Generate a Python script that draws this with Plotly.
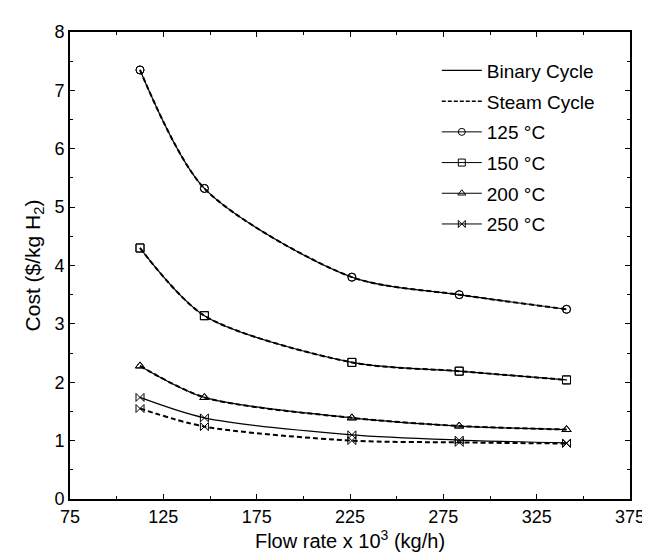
import plotly.graph_objects as go

# flow rate x 10^3 (kg/h)
flow = [112.5, 147, 226, 283.5, 341]

temps = ["125 °C", "150 °C", "200 °C", "250 °C"]
symbols = ["circle-open", "square-open", "triangle-up-open", "bowtie-open"]

# cost ($/kg H2)
binary = [
    [7.35, 5.32, 3.80, 3.50, 3.25],
    [4.30, 3.14, 2.34, 2.19, 2.04],
    [2.28, 1.74, 1.39, 1.25, 1.19],
    [1.74, 1.39, 1.10, 1.01, 0.96],
]
steam = [
    [7.35, 5.32, 3.80, 3.50, 3.25],
    [4.30, 3.14, 2.34, 2.19, 2.04],
    [2.28, 1.74, 1.39, 1.25, 1.19],
    [1.55, 1.24, 1.00, 0.97, 0.95],
]

FONT = "Liberation Sans, Arial, sans-serif"

fig = go.Figure()

for i, t in enumerate(temps):
    fig.add_trace(go.Scatter(
        x=flow, y=binary[i], mode="lines+markers",
        line=dict(color="black", width=1.2, shape="spline", smoothing=0.8),
        marker=dict(symbol=symbols[i], size=8, color="black", line=dict(width=1)),
        showlegend=False))
    fig.add_trace(go.Scatter(
        x=flow, y=steam[i], mode="lines+markers",
        line=dict(color="black", width=2, dash="5px,3px", shape="spline", smoothing=0.8),
        marker=dict(symbol=symbols[i], size=8, color="black", line=dict(width=1)),
        showlegend=False))

# legend entries
fig.add_trace(go.Scatter(x=[None], y=[None], mode="lines", name="Binary Cycle",
                         legendgroup="b", line=dict(color="black", width=1.2)))
fig.add_trace(go.Scatter(x=[None], y=[None], mode="lines", name="Steam Cycle",
                         legendgroup="s", line=dict(color="black", width=1.5, dash="4px,2px")))
for i, t in enumerate(temps):
    fig.add_trace(go.Scatter(x=[None], y=[None], mode="lines+markers", name=t,
                             legendgroup=t, line=dict(color="black", width=1),
                             marker=dict(symbol=symbols[i], size=7, color="black",
                                         line=dict(width=1))))

axis_common = dict(
    showgrid=False, zeroline=False, showline=True, linecolor="black", linewidth=2,
    mirror="ticks", ticks="inside", ticklen=5, tickcolor="black", tickwidth=1,
    tickfont=dict(family=FONT, size=18, color="black"),
)

fig.update_xaxes(
    range=[75, 375], tickvals=[75, 125, 175, 225, 275, 325, 375],
    minor=dict(tickvals=[100, 150, 200, 250, 300, 350], ticks="inside", ticklen=3,
               tickcolor="black"),
    title=dict(text="Flow rate x 10<sup>3</sup> (kg/h)", font=dict(family=FONT, size=20, color="black"),
               standoff=2),
    **axis_common)
fig.update_yaxes(
    range=[0, 8], dtick=1,
    minor=dict(dtick=0.5, ticks="inside", ticklen=3, tickcolor="black"),
    title=dict(text="Cost ($/kg H<sub>2</sub>)", font=dict(family=FONT, size=21, color="black"),
               standoff=8),
    **axis_common)

fig.update_layout(
    width=650, height=559,
    margin=dict(l=62, r=28, t=24, b=68),
    plot_bgcolor="white", paper_bgcolor="white",
    legend=dict(x=0.655, y=0.958, xanchor="left", yanchor="top",
                font=dict(family=FONT, size=19, color="black"),
                bgcolor="rgba(0,0,0,0)", itemwidth=40, tracegroupgap=3),
    font=dict(family=FONT, color="black"),
)

fig.write_html("out.html")
